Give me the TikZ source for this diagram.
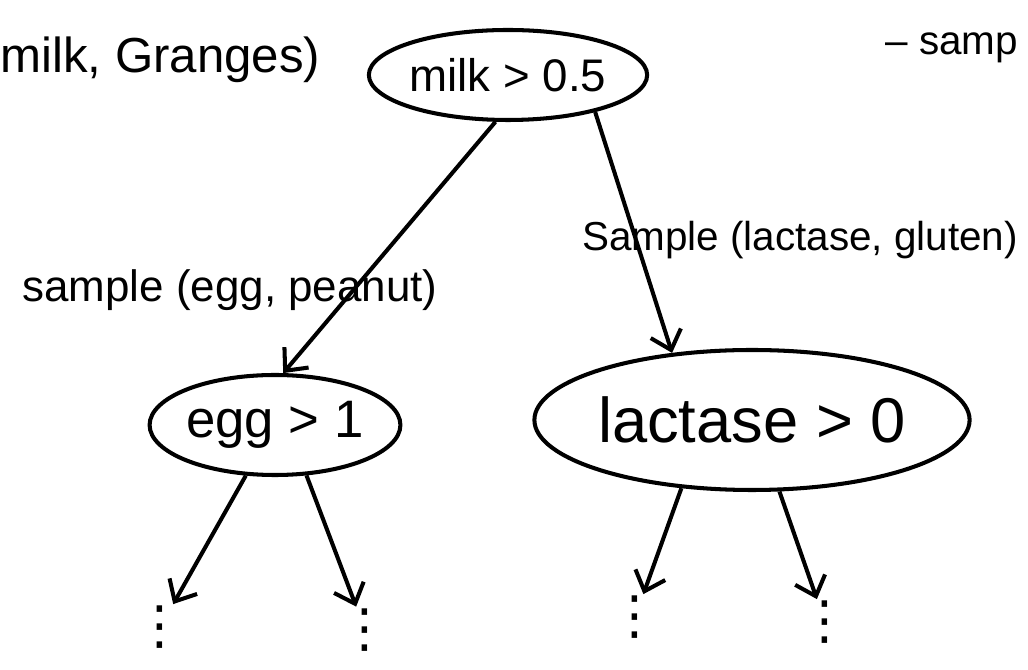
\documentclass[tikz,border=0pt]{standalone}
\usepackage{fontspec}
\setmainfont{Liberation Sans}
\newfontfamily\symfont{DejaVu Sans}
\usetikzlibrary{shapes.geometric,arrows.meta}

\tikzset{
  split/.style={draw, ellipse, line width=2.3pt, inner sep=0pt},
  branch/.style={line width=2.3pt, -{Straight Barb[length=10pt,width=18pt]}},
  more/.style={inner sep=1pt, font=\symfont\fontsize{30}{30}\selectfont},
}

\begin{document}
\begin{tikzpicture}
\useasboundingbox (0,0) rectangle (20.56,13.4);

    \node[split, minimum width=5.3cm, minimum height=1.8cm, font=\fontsize{26}{30}\selectfont] (root) at (10.16,11.9) {milk > 0.5};
    \node[split, minimum width=5cm, minimum height=2cm, font=\fontsize{30}{36}\selectfont] (egg) at (5.5,4.9) {egg > 1};
    \node[split, minimum width=7.9cm, minimum height=2.8cm, font=\fontsize{36}{42}\selectfont] (lac) at (15.04,5.0) {lactase > 0};

    \node[anchor=base west, inner sep=0pt, font=\fontsize{28}{32}\selectfont] (feat) at (0,11.95) {milk, Granges)};
    \node[anchor=base west, inner sep=0pt, font=\fontsize{23}{28}\selectfont] (note) at (17.7,12.3) {– samp};

    \node[font=\fontsize{25}{30}\selectfont] (lsample) at (4.6,7.6) {sample (egg, peanut)};
    \node[font=\fontsize{23}{28}\selectfont] (rsample) at (16.0,8.6) {Sample (lactase, gluten)};

    \node[more] (d1) at (3.2,0.85) {⋮};
    \node[more] (d2) at (7.3,0.8) {⋮};
    \node[more] (d3) at (12.7,1.05) {⋮};
    \node[more] (d4) at (16.5,0.95) {⋮};

\draw[branch] (root.-105) -- (egg.81);
\draw[branch] (root.-23) -- (lac.140);
\draw[branch] (egg.-120) -- (d1);
\draw[branch] (egg.-58) -- (d2);
\draw[branch] (lac.-136) -- (d3);
\draw[branch] (lac.-69) -- (d4);
\end{tikzpicture}
\end{document}
